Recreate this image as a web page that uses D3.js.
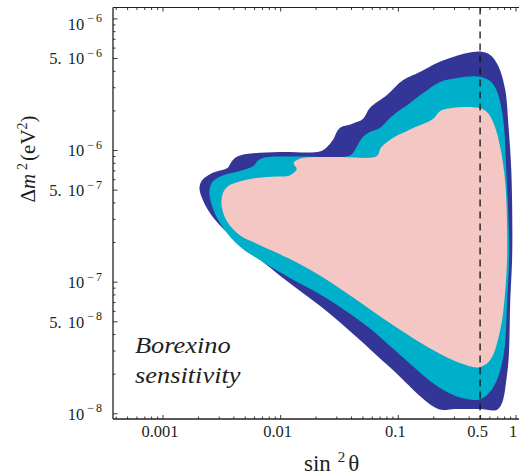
<!DOCTYPE html>
<html><head><meta charset="utf-8">
<script src="https://cdn.jsdelivr.net/npm/d3@7"></script>
<style>body{margin:0;background:#fff}svg{display:block}text{font-family:"Liberation Serif","Times New Roman",serif;fill:#231f20}</style>
</head><body>
<script>
// ---- data (sin^2 theta, delta m^2 in eV^2) ----
const darkRegion = [
 [0.00206,5.14e-7],[0.00218,5.92e-7],[0.00265,6.69e-7],[0.00356,7.30e-7],[0.00385,8.11e-7],
 [0.00425,8.85e-7],[0.00517,9.32e-7],[0.0099,9.66e-7],[0.0217,9.74e-7],[0.0249,1.05e-6],
 [0.0280,1.19e-6],[0.0321,1.47e-6],[0.0406,1.58e-6],[0.0504,1.72e-6],[0.0578,2.09e-6],
 [0.0808,2.62e-6],[0.111,3.40e-6],[0.154,3.91e-6],[0.215,4.58e-6],[0.295,5.09e-6],
 [0.388,5.46e-6],[0.501,5.60e-6],[0.610,5.27e-6],[0.714,4.35e-6],[0.819,2.86e-6],
 [0.868,1.60e-6],[0.921,7.05e-7],[0.939,1.74e-7],[0.903,7.25e-8],[0.851,2.02e-8],
 [0.714,1.08e-8],[0.501,1.08e-8],[0.307,1.08e-8],[0.220,1.08e-8],[0.0856,2.24e-8],
 [0.0448,3.79e-8],[0.0230,6.30e-8],[0.0120,9.76e-8],[0.00736,1.38e-7],[0.00478,1.90e-7],
 [0.00336,2.47e-7],[0.00260,3.21e-7],[0.00222,4.10e-7]
];
const cyanRegion = [
 [0.00250,4.80e-7],[0.00265,5.71e-7],[0.00317,6.35e-7],[0.00451,6.92e-7],[0.00593,7.56e-7],
 [0.00642,8.25e-7],[0.00736,8.77e-7],[0.0146,8.93e-7],[0.0391,9.08e-7],[0.0431,1.00e-6],
 [0.0494,1.23e-6],[0.0578,1.37e-6],[0.0704,1.47e-6],[0.0856,1.75e-6],[0.0982,1.94e-6],
 [0.127,2.28e-6],[0.164,2.71e-6],[0.229,3.29e-6],[0.319,3.52e-6],[0.472,3.62e-6],
 [0.610,3.35e-6],[0.700,2.76e-6],[0.787,1.69e-6],[0.835,7.05e-7],[0.885,1.74e-7],
 [0.851,7.25e-8],[0.787,2.67e-8],[0.647,1.58e-8],[0.501,1.28e-8],[0.359,1.30e-8],
 [0.262,1.45e-8],[0.188,1.76e-8],[0.0982,2.92e-8],[0.0545,4.60e-8],[0.0230,7.77e-8],
 [0.0120,1.07e-7],[0.00629,1.51e-7],[0.00451,1.86e-7],[0.00329,2.55e-7],[0.00271,3.50e-7]
];
const pinkRegion = [
 [0.00317,4.10e-7],[0.00329,4.80e-7],[0.00363,5.33e-7],[0.00451,5.76e-7],[0.00629,6.13e-7],
 [0.00932,6.29e-7],[0.0120,6.40e-7],[0.0138,7.17e-7],[0.0130,7.97e-7],[0.0149,8.62e-7],
 [0.0321,8.85e-7],[0.0663,9.00e-7],[0.0718,1.04e-6],[0.0945,1.26e-6],[0.111,1.35e-6],
 [0.135,1.47e-6],[0.199,1.72e-6],[0.229,1.98e-6],[0.289,2.09e-6],[0.472,2.10e-6],
 [0.575,1.94e-6],[0.660,1.55e-6],[0.742,1.05e-6],[0.819,5.61e-7],[0.851,1.74e-7],
 [0.819,8.63e-8],[0.742,4.29e-8],[0.610,2.54e-8],[0.491,2.24e-8],[0.338,2.41e-8],
 [0.199,3.02e-8],[0.0856,4.85e-8],[0.0448,7.25e-8],[0.0230,1.08e-7],[0.0120,1.49e-7],
 [0.00668,1.90e-7],[0.00451,2.26e-7],[0.00356,2.84e-7],[0.00323,3.50e-7]
];
const xTickValues = [0.001, 0.01, 0.1, 0.5, 1];
const xTickLabels = ["0.001", "0.01", "0.1", "0.5", "1"];
const yTickValues = [1e-5, 5e-6, 1e-6, 5e-7, 1e-7, 5e-8, 1e-8];
const yTickMantissa = ["", "5.", "", "5.", "", "5.", ""];
const yTickExponent = ["6", "6", "6", "7", "7", "8", "8"];
const maximalMixing = 0.5;
const annotation = ["Borexino", "sensitivity"];
const regionColors = ["#333696", "#00afca", "#f4c6c4"];

// ---- layout ----
const W = 519, H = 475;
const L = 113, R = 519, T = 7.5, B = 419;
const svg = d3.select("body").append("svg").attr("width", W).attr("height", H);
const x = d3.scaleLog().domain([3.795e-4, 1]).range([L, 515.5]);
const y = d3.scaleLog().domain([9.05e-9, 1.21e-5]).range([B, T]);

svg.append("clipPath").attr("id", "clip").append("rect")
  .attr("x", L).attr("y", T).attr("width", R - L).attr("height", B - T);

const area = d3.line().x(d => x(d[0])).y(d => y(d[1])).curve(d3.curveCatmullRomClosed.alpha(0.5));
const g = svg.append("g").attr("clip-path", "url(#clip)");
[darkRegion, cyanRegion, pinkRegion].forEach((reg, i) => {
  g.append("path").attr("d", area(reg)).attr("fill", regionColors[i]);
});
g.append("line").attr("x1", x(maximalMixing)).attr("x2", x(maximalMixing))
  .attr("y1", T).attr("y2", B).attr("stroke", "#111").attr("stroke-width", 1.3)
  .attr("stroke-dasharray", "7,5");

// minor tick values
const xMinor = [], yMinor = [];
for (let k = -4; k <= -1; k++) for (let m = 2; m <= 9; m++) {
  const v = m * Math.pow(10, k);
  if (v >= x.domain()[0] && v <= 1 && !xTickValues.some(t => Math.abs(t - v) / v < 1e-6)) xMinor.push(v);
}
for (let k = -9; k <= -6; k++) for (let m = 2; m <= 9; m++) {
  const v = m * Math.pow(10, k);
  if (v >= y.domain()[0] && v <= y.domain()[1] && m !== 5) yMinor.push(v);
}

function styleAxis(sel) {
  sel.select(".domain").remove();
  sel.selectAll(".tick line").attr("stroke", "#231f20").attr("stroke-width", 0.9);
}
// bottom axis
svg.append("g").attr("transform", `translate(0,${B})`)
  .call(d3.axisBottom(x).tickValues(xTickValues).tickFormat((d, i) => xTickLabels[i]).tickSize(-4).tickSizeOuter(0))
  .call(styleAxis)
  .call(s => s.selectAll("text").attr("dy", null).attr("y", 18).attr("dx", -3)
     .attr("font-size", 16.5).attr("fill", "#231f20"));
svg.append("g").attr("transform", `translate(0,${B})`)
  .call(d3.axisBottom(x).tickValues(xMinor).tickFormat("").tickSize(-2.5).tickSizeOuter(0)).call(styleAxis);
// top axis
svg.append("g").attr("transform", `translate(0,${T})`)
  .call(d3.axisTop(x).tickValues(xTickValues).tickFormat("").tickSize(-4).tickSizeOuter(0)).call(styleAxis);
svg.append("g").attr("transform", `translate(0,${T})`)
  .call(d3.axisTop(x).tickValues(xMinor).tickFormat("").tickSize(-2.5).tickSizeOuter(0)).call(styleAxis);
// left axis
const yAx = svg.append("g").attr("transform", `translate(${L},0)`)
  .call(d3.axisLeft(y).tickValues(yTickValues).tickFormat("").tickSize(-4.5).tickSizeOuter(0))
  .call(styleAxis);
yAx.selectAll(".tick text").each(function (d, i) {
  const t = d3.select(this).attr("x", -11).attr("dy", "0.35em").attr("text-anchor", "end")
    .attr("font-size", 16.5).attr("fill", "#231f20");
  if (y(d) < 22) t.attr("y", 5);
  t.text(null);
  if (yTickMantissa[i]) t.append("tspan").text(yTickMantissa[i]);
  t.append("tspan").attr("dx", yTickMantissa[i] ? 6 : 0).text("10");
  t.append("tspan").attr("font-size", 12).attr("dx", 3).attr("dy", "-0.6em").text("\u2212");
  t.append("tspan").attr("font-size", 12).attr("dx", 2).text(yTickExponent[i]);
});
svg.append("g").attr("transform", `translate(${L},0)`)
  .call(d3.axisLeft(y).tickValues(yMinor).tickFormat("").tickSize(-2.5).tickSizeOuter(0)).call(styleAxis);

// frame lines
const fr = svg.append("g").attr("stroke", "#231f20").attr("stroke-width", 1.3);
fr.append("line").attr("x1", L).attr("x2", L).attr("y1", T).attr("y2", B);
fr.append("line").attr("x1", L).attr("x2", R).attr("y1", B).attr("y2", B);
fr.append("line").attr("x1", L).attr("x2", R).attr("y1", T).attr("y2", T).attr("stroke-width", 1);

// axis titles
const xt = svg.append("text").attr("x", 304).attr("y", 470.5).attr("font-size", 23);
xt.append("tspan").text("sin");
xt.append("tspan").attr("font-size", 15).attr("dx", 7).attr("dy", -9).text("2");
xt.append("tspan").attr("dx", 3).attr("dy", 9).text("\u03b8");

const yt = svg.append("text").attr("transform", "translate(35,159) rotate(-90)")
  .attr("text-anchor", "middle").attr("font-size", 21);
yt.append("tspan").text("\u0394");
yt.append("tspan").attr("font-style", "italic").text("m");
yt.append("tspan").attr("font-size", 14).attr("dx", 4).attr("dy", -8).text("2");
yt.append("tspan").attr("dx", 2).attr("dy", 8).text("(eV");
yt.append("tspan").attr("font-size", 14).attr("dy", -8).text("2");
yt.append("tspan").attr("dy", 8).text(")");

// annotation
annotation.forEach((s, i) => {
  svg.append("text").attr("transform", `translate(135,${353 + i * 30}) scale(1.1,1)`)
    .attr("font-size", 24).attr("font-style", "italic").text(s);
});
</script>
</body></html>
